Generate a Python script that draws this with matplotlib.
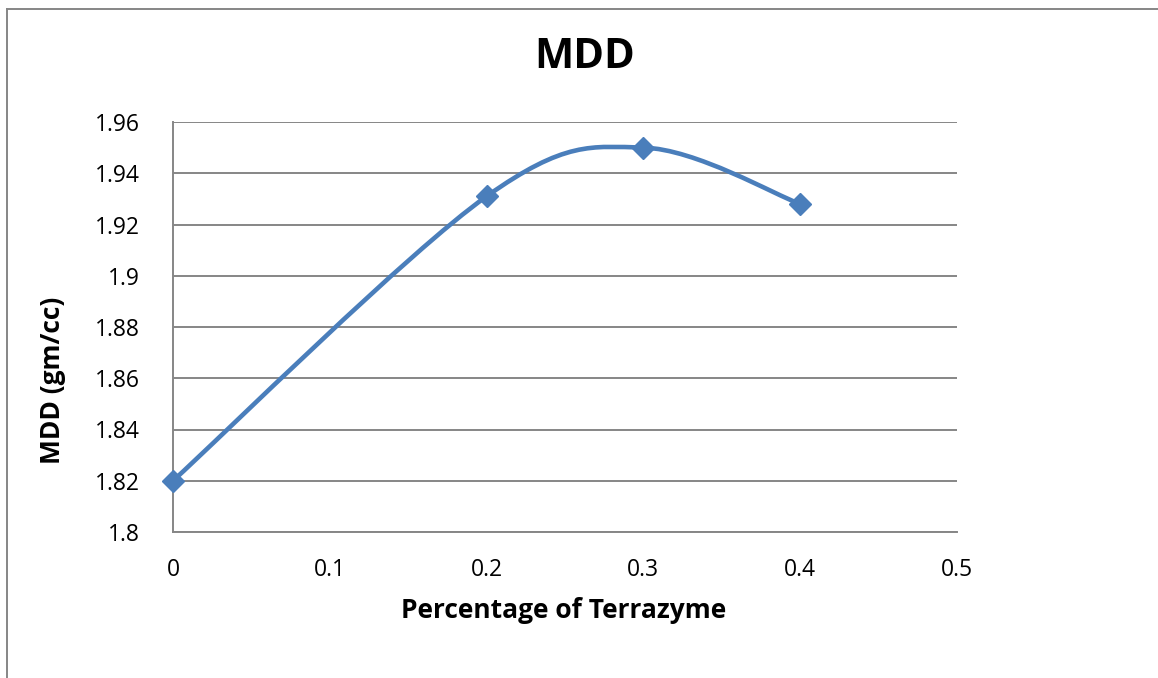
import matplotlib
matplotlib.use("Agg")
import matplotlib.pyplot as plt
from matplotlib.path import Path
from matplotlib.patches import PathPatch
from matplotlib.lines import Line2D
import numpy as np

x_vals = [0.0, 0.2, 0.3, 0.4]
mdd_vals = [1.82, 1.931, 1.95, 1.928]
x_ticks = [0, 0.1, 0.2, 0.3, 0.4, 0.5]
x_tick_labels = ["0", "0.1", "0.2", "0.3", "0.4", "0.5"]
y_ticks = [1.8, 1.82, 1.84, 1.86, 1.88, 1.9, 1.92, 1.94, 1.96]
y_tick_labels = ["1.8", "1.82", "1.84", "1.86", "1.88", "1.9", "1.92", "1.94", "1.96"]

plt.rcParams['font.family'] = ['Open Sans', 'DejaVu Sans']

W, H = 1158, 678
fig = plt.figure(figsize=(W / 100, H / 100), dpi=100)
ax = fig.add_axes([173 / W, 1 - 532 / H, (957 - 173) / W, (532 - 122) / H])

grid_c = "#868686"
line_c = "#4A7EBB"

ax.set_xlim(0, 0.5)
ax.set_ylim(1.8, 1.96)
ax.set_xticks(x_ticks)
ax.set_xticklabels(x_tick_labels)
ax.set_yticks(y_ticks)
ax.set_yticklabels(y_tick_labels)
ax.tick_params(length=0, labelsize=16.5, pad=19, colors="black")
ax.tick_params(axis='y', pad=24)
ax.grid(axis='y', color=grid_c, linewidth=1.4)
ax.set_axisbelow(True)
for s in ["top", "right"]:
    ax.spines[s].set_visible(False)
for s in ["left", "bottom"]:
    ax.spines[s].set_color(grid_c)
    ax.spines[s].set_linewidth(1.4)

# Excel-style smoothed line (Catmull-Rom -> cubic Bezier)
pts = np.column_stack([x_vals, mdd_vals])
n = len(pts)
verts = [pts[0]]
codes = [Path.MOVETO]
for i in range(n - 1):
    p0 = pts[i - 1] if i > 0 else pts[i]
    p1 = pts[i]
    p2 = pts[i + 1]
    p3 = pts[i + 2] if i + 2 < n else pts[i + 1]
    c1 = p1 + (p2 - p0) / 6.0
    c2 = p2 - (p3 - p1) / 6.0
    verts += [c1, c2, p2]
    codes += [Path.CURVE4] * 3
path = Path(verts, codes)
ax.add_patch(PathPatch(path, facecolor="none", edgecolor=line_c, linewidth=3.3, capstyle="round", zorder=3))
ax.plot(x_vals, mdd_vals, linestyle="none", marker="D", markersize=11,
        color=line_c, markeredgecolor=line_c, zorder=4, clip_on=False)

fig.text(585 / W, 1 - 57 / H, "MDD", ha="center", va="center", fontsize=30, fontweight="bold")
fig.text(564 / W, 1 - 611 / H, "Percentage of Terrazyme", ha="center", va="center", fontsize=19, fontweight="bold")
fig.text(53 / W, 1 - 380 / H, "MDD (gm/cc)", ha="center", va="center", fontsize=19, fontweight="bold", rotation=90)

# chart border
fig.add_artist(Line2D([7.5 / W, 7.5 / W], [0, 1 - 8.5 / H], transform=fig.transFigure, color=grid_c, linewidth=1.4))
fig.add_artist(Line2D([7.5 / W, 1], [1 - 8.5 / H, 1 - 8.5 / H], transform=fig.transFigure, color=grid_c, linewidth=1.4))

fig.savefig("out.png", dpi=100)
